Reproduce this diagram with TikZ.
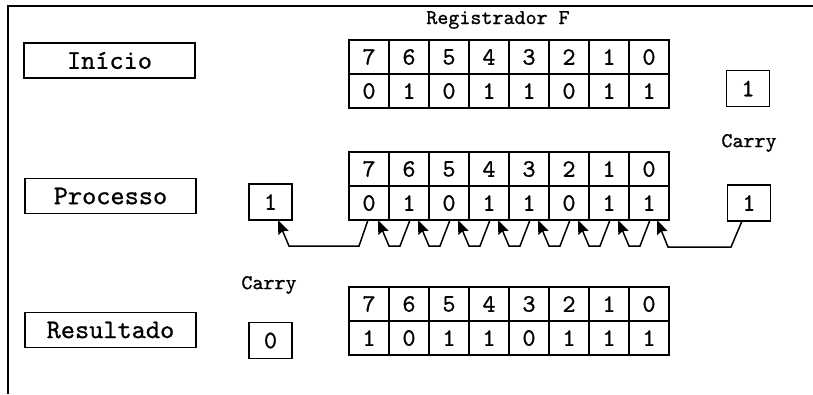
\documentclass[tikz,border=0pt]{standalone}
\usepackage{fontspec}
\newfontfamily\monob[FakeBold=0.8]{lmmono10-regular.otf}
\usetikzlibrary{arrows.meta,calc}
\tikzset{shiftarrow/.style={line width=1.5pt,arrows={-Stealth[length=14pt,width=11pt,inset=2pt]}}}
\begin{document}
\begin{tikzpicture}[x=1pt,y=-1pt,
  cell/.style={draw,line width=1.6pt,minimum width=40pt,minimum height=34pt,inner sep=0pt,outer sep=0pt,font=\monob\fontsize{25}{25}\selectfont},
  carrybox/.style={draw,line width=1.8pt,minimum width=43pt,minimum height=36pt,inner sep=0pt,outer sep=0pt,font=\monob\fontsize{25}{25}\selectfont},
  labelbox/.style={draw,line width=1.8pt,minimum width=171pt,minimum height=35pt,inner sep=0pt,outer sep=0pt,font=\monob\fontsize{27}{27}\selectfont},
  caption/.style={font=\monob\fontsize{21}{21}\selectfont,inner sep=0pt}]
\useasboundingbox (0,0) rectangle (813,394);
\coordinate (frameTL) at (8,6);
\coordinate (frameTR) at (813,6);
\coordinate (frameBL) at (8,394);
\draw[line width=1.8pt] (frameTR) -- (frameTL) -- (frameBL);

% labels
\node[labelbox] (inicio) at (109.5,60.5) {Início};
\node[labelbox] (processo) at (110.5,196) {Processo};
\node[labelbox] (resultado) at (110.5,330) {Resultado};

\node[caption] (regF) at (498,20) {Registrador F};
\node[caption] (carryA) at (749,143) {Carry};
\node[caption] (carryB) at (269,285) {Carry};

% registers
\foreach \r/\top/\vals in {A/40/{0,1,0,1,1,0,1,1},B/152/{0,1,0,1,1,0,1,1},C/287/{1,0,1,1,0,1,1,1}}{
  \foreach \v [count=\i from 0] in \vals {
    \pgfmathtruncatemacro{\b}{7-\i}
    \node[cell] (\r h\b) at (369+40*\i,\top+17) {\b};
    \node[cell] (\r v\b) at (369+40*\i,\top+51) {\v};
  }
}

% carry boxes
\node[carrybox] (cInit) at (748,88.5) {1};
\node[carrybox] (cLeft) at (270.5,202) {1};
\node[carrybox] (cRight) at (749,203) {1};
\node[carrybox] (cRes) at (270.5,340.5) {0};

% shifting arrows
\foreach \s [evaluate=\s as \d using int(\s+1)] in {0,...,6}{
  \draw[shiftarrow] ([xshift=1pt]Bv\s.south) -- ++(-10,26) -- ++(-11,0) -- ([xshift=9pt]Bv\d.south);
}
\draw[shiftarrow] ([xshift=-1pt]Bv7.south) -- ++(-9,26) -- ++(-70,0) -- ([xshift=7.5pt]cLeft.south);
\draw[shiftarrow] ([xshift=-7pt]cRight.south) -- ++(-11,26) -- ++(-63,0) -- ([xshift=8pt]Bv0.south);
\end{tikzpicture}
\end{document}
